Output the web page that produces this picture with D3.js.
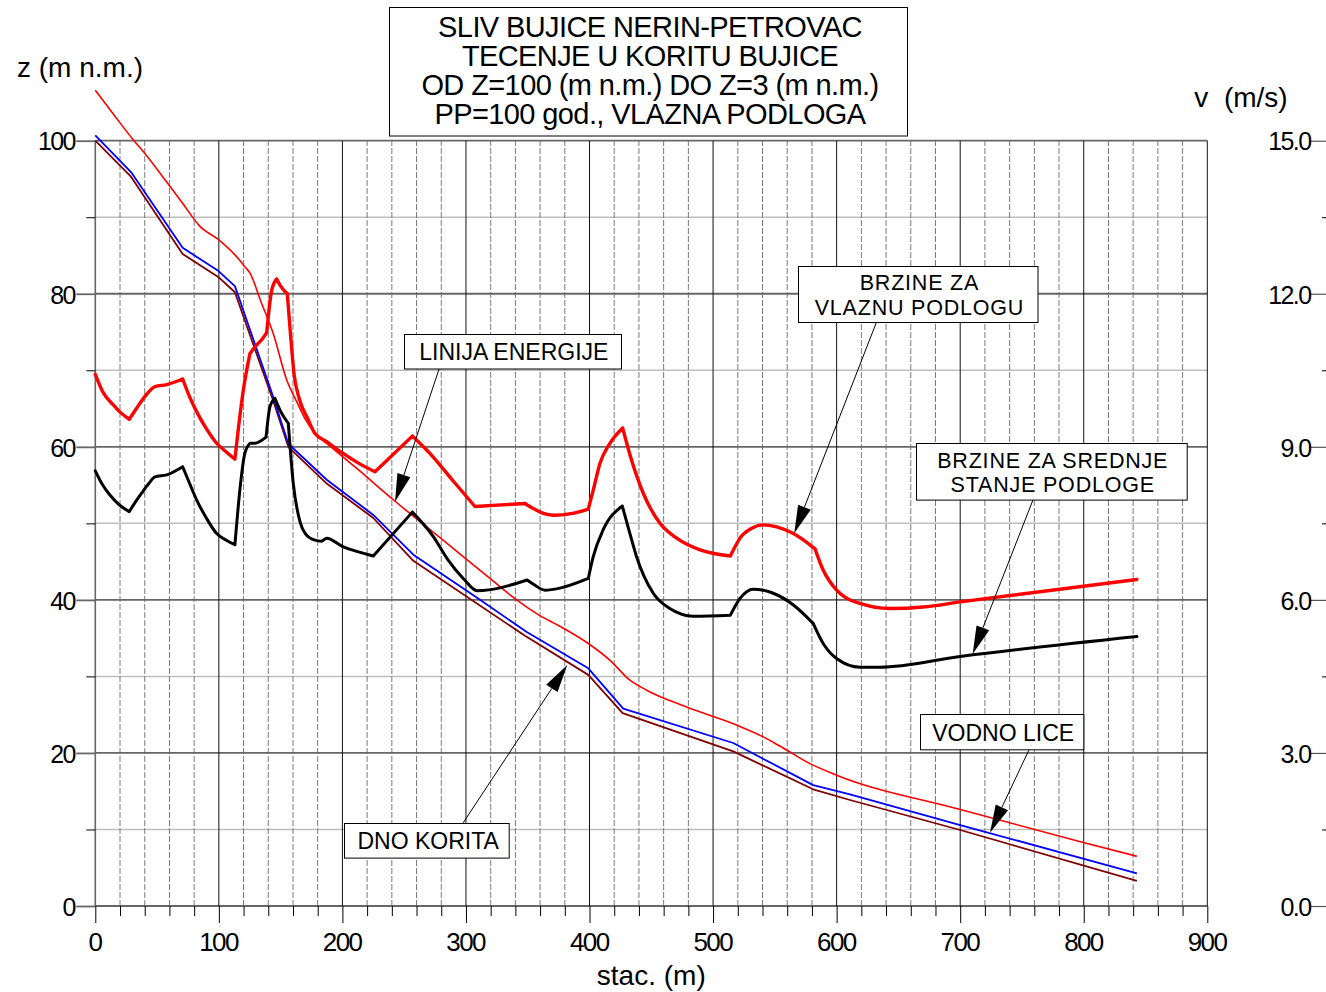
<!DOCTYPE html>
<html><head><meta charset="utf-8">
<script src="https://cdn.jsdelivr.net/npm/d3@7"></script>
<style>
body{margin:0;background:#fff}
svg{display:block}
text{font-family:"Liberation Sans",Arial,Helvetica,sans-serif;fill:#000}
</style>
</head><body>
<svg id="c" width="1326" height="992"></svg>
<script>
// ---------- DATA ----------
const titleLines = ["SLIV BUJICE NERIN-PETROVAC","TECENJE U KORITU BUJICE","OD Z=100 (m n.m.) DO Z=3 (m n.m.)","PP=100 god., VLAZNA PODLOGA"];
const xTicks = [0,100,200,300,400,500,600,700,800,900];
const zTicks = [0,20,40,60,80,100];
const vTicks = [0,3,6,9,12,15];

// DNO KORITA (bed)
const bedStation = [0,28.9,70.7,99.5,113,128,143,156.2,187.3,225,257.4,347.8,399,426.8,516.3,581,610.8,700,843];
const bedZ       = [100,95.3,85.2,82.2,80.2,73.3,66.5,60.0,55.2,50.7,45.1,35.3,30.2,25.2,20.2,15.25,13.85,9.93,3.27];

// VODNO LICE (water surface)
const waterStation = [0,28.9,70.7,99.5,113,128,143,156.2,187.3,225,257.4,308.7,349.2,399,427.3,516.3,581,610.8,700,843];
const waterZ       = [100.7,95.9,86.0,83.0,81.0,74.0,67.0,60.4,55.7,51.1,45.9,40.3,35.8,31.06,25.8,21.3,15.8,14.6,10.58,4.27];

// LINIJA ENERGIJE (energy line)
const energyStation = [0,15,30.8,38.8,57.8,69.9,84.7,99.5,115.7,121.2,125.2,134,144,155,163,170,177.8,190,210,241.4,280,319.4,341,357.2,378.8,399,416.6,432.7,446.2,478.6,519,540.6,554,578.4,600,700,799.6,843];
const energyZ       = [106.6,103.4,100.1,98.6,94.6,92.0,88.8,87.1,84.6,83.5,82.7,79.0,74.8,68.7,65.9,63.6,61.8,60.1,57.4,53.05,48.0,42.8,40.0,38.2,36.3,34.3,32.1,29.5,28.2,26.0,23.65,22.1,20.9,18.6,17.1,12.6,8.3,6.5];

// BRZINE ZA VLAZNU PODLOGU (velocity, wet soil) m/s
const wetStation = [0,6,14.6,20,27.5,33,38,43,48.3,57.8,70.7,76,82,90,98.2,106,113,116,119.8,125.2,130,134.7,138.7,142.8,146.8,150,155.4,158,161,165,172,177.8,187.3,200,213,226.4,256.6,273.5,290,307.3,347.8,354.5,362,370.6,385,399,403,408.5,416,426.8,434,443.5,457,470.5,489.5,514,518,521.8,531,540.6,551.5,565,582.5,589,600,619,643.2,670,700,843];
const wetV       = [10.42,10.08,9.82,9.68,9.54,9.74,9.92,10.07,10.18,10.22,10.33,10.0,9.69,9.35,9.07,8.9,8.76,9.4,10.11,10.83,10.98,11.1,11.24,12.07,12.29,12.15,12.0,11.2,10.4,9.95,9.55,9.26,9.10,8.88,8.68,8.51,9.21,8.80,8.32,7.83,7.89,7.79,7.70,7.66,7.69,7.78,8.15,8.68,9.05,9.37,8.74,8.09,7.5,7.21,6.98,6.86,7.05,7.21,7.40,7.47,7.43,7.30,7.0,6.59,6.19,5.93,5.83,5.86,5.96,6.40];
const wetKinks   = [27.5,70.7,113,125.2,138.7,146.8,155.4,226.4,256.6,307.3,347.8,399,426.8,514,582.5];

// BRZINE ZA SREDNJE STANJE PODLOGE (velocity, average soil) m/s
const meanStation = [0,6,12,20,27.5,32,37.5,43,48.3,57.8,70.7,76,82,90,98.2,106,113,117,121,125.2,129,138.2,141.4,145.4,149.5,156.2,160.2,165.7,170,177.8,183,187.3,200,213,225,256.6,273.6,285,297.8,309,349.5,355,364,376,399,403,411,426.5,432.7,438,451.6,465,484,514,521.8,532.5,548.7,565,581,589,600,618.9,635,700,843];
const meanV       = [8.53,8.25,8.05,7.85,7.73,7.9,8.09,8.27,8.41,8.45,8.61,8.3,7.96,7.6,7.30,7.17,7.08,8.15,8.87,9.07,9.07,9.19,9.79,9.95,9.72,9.46,8.29,7.53,7.3,7.17,7.15,7.21,7.05,6.94,6.86,7.72,7.24,6.8,6.42,6.18,6.39,6.30,6.19,6.23,6.42,6.85,7.37,7.84,7.30,6.85,6.13,5.83,5.68,5.70,6.03,6.21,6.13,5.90,5.54,5.15,4.85,4.68,4.68,4.89,5.28];
const meanKinks   = [27.5,70.7,113,125.2,138.2,145.4,156.2,225,256.6,349.5,399,426.5,514,581];

// ---------- LAYOUT ----------
const W = 1326, H = 992;
const x  = d3.scaleLinear().domain([0,900]).range([95.3,1207.3]);
const y  = d3.scaleLinear().domain([0,100]).range([906,140.7]);
const yv = d3.scaleLinear().domain([0,15]).range([906,140.7]);

const svg = d3.select("#c");
const g = svg.append("g");

const zMinor = d3.range(10,100,20);
const xMinor = d3.range(20,900,20).filter(d => d % 100 !== 0);
const vMinor = d3.range(1.5,15,3);

// grid: minor horizontal
g.append("g").selectAll("line").data(zMinor).join("line")
  .attr("x1",x(0)).attr("x2",x(900)).attr("y1",d=>y(d)).attr("y2",d=>y(d))
  .attr("stroke","#bfbfbf").attr("stroke-width",1.5);
// grid: minor vertical (dashed)
g.append("g").selectAll("line").data(xMinor).join("line")
  .attr("x1",d=>x(d)).attr("x2",d=>x(d)).attr("y1",y(0)).attr("y2",y(100))
  .attr("stroke","#7a7a7a").attr("stroke-width",1).attr("stroke-dasharray","6 2");
// grid: major horizontal
g.append("g").selectAll("line").data(zTicks).join("line")
  .attr("x1",x(0)).attr("x2",x(900)).attr("y1",d=>y(d)).attr("y2",d=>y(d))
  .attr("stroke","#666").attr("stroke-width",1.8);
// grid: major vertical
g.append("g").selectAll("line").data(xTicks).join("line")
  .attr("x1",d=>x(d)).attr("x2",d=>x(d)).attr("y1",y(0)).attr("y2",y(100))
  .attr("stroke",d=>d===0?"#666":"#111").attr("stroke-width",d=>d===0?1.6:1);

function styleAxis(sel, fs, color, sw){
  sel.select(".domain").remove();
  sel.attr("font-family",null).attr("font-size",null);
  sel.selectAll(".tick line").attr("stroke",color).attr("stroke-width",sw);
  sel.selectAll(".tick text").attr("font-size",fs).attr("fill","#000")
     .attr("letter-spacing","-1.6px")
     .style("font-family",'"Liberation Sans",Arial,sans-serif');
}

// left axis
g.append("g").attr("transform",`translate(${x(0)},0)`)
  .call(d3.axisLeft(y).tickValues(zTicks).tickSize(19).tickPadding(1.5).tickFormat(d3.format("d")))
  .call(s=>{styleAxis(s,25,"#666",1.8); s.selectAll(".tick text").attr("dy","0.37em");});
g.append("g").attr("transform",`translate(${x(0)},0)`)
  .call(d3.axisLeft(y).tickValues(zMinor).tickSize(9).tickFormat(""))
  .call(s=>styleAxis(s,25,"#000",1));

// bottom axis
g.append("g").attr("transform",`translate(0,${y(0)})`)
  .call(d3.axisBottom(x).tickValues(xTicks).tickSize(17).tickPadding(10).tickFormat(d3.format("d")))
  .call(s=>{styleAxis(s,26,"#000",1); s.selectAll(".tick text").attr("dx","-0.8px");});
g.append("g").attr("transform",`translate(0,${y(0)})`)
  .call(d3.axisBottom(x).tickValues(xMinor).tickSize(10).tickFormat(""))
  .call(s=>styleAxis(s,26,"#000",1));

// right axis (velocity)
g.append("g").attr("transform",`translate(${W},0)`)
  .call(d3.axisLeft(yv).tickValues(vTicks).tickSize(15).tickPadding(0.5).tickFormat(d3.format(".1f")))
  .call(s=>{styleAxis(s,25,"#555",1.2); s.selectAll(".tick text").attr("dy","0.37em");});
g.append("g").attr("transform",`translate(${W},0)`)
  .call(d3.axisLeft(yv).tickValues(vMinor).tickSize(4).tickFormat(""))
  .call(s=>styleAxis(s,25,"#000",1));

// axis titles
g.append("text").attr("x",17).attr("y",76.5).attr("font-size",28).text("z (m n.m.)");
g.append("text").attr("x",1241).attr("y",106.5).attr("font-size",28).attr("text-anchor","middle")
  .style("white-space","pre").text("v  (m/s)");
g.append("text").attr("x",x(450)).attr("y",985).attr("font-size",28).attr("text-anchor","middle").text("stac. (m)");

// ---------- SERIES ----------
function zip(a,b){ return a.map((d,i)=>[d,b[i]]); }
// smooth between break stations, sharp corners at the break stations
function segmentedPath(st, vals, kinks, ys){
  const pts = zip(st, vals);
  const line = d3.line().x(d=>x(d[0])).y(d=>ys(d[1])).curve(d3.curveMonotoneX);
  const segs = []; let cur = [];
  pts.forEach(p=>{
    cur.push(p);
    if (kinks.includes(p[0])) { segs.push(cur); cur = [p]; }
  });
  if (cur.length > 1) segs.push(cur);
  return segs.map(s=>line(s)).join("");
}
const lineZ = d3.line().x(d=>x(d[0])).y(d=>y(d[1]));
const lineZs = d3.line().x(d=>x(d[0])).y(d=>y(d[1])).curve(d3.curveMonotoneX);

g.append("path").attr("d",lineZ(zip(bedStation,bedZ))).attr("fill","none")
  .attr("stroke","#800000").attr("stroke-width",1.8).attr("stroke-linejoin","round");
g.append("path").attr("d",lineZ(zip(waterStation,waterZ))).attr("fill","none")
  .attr("stroke","#0000ff").attr("stroke-width",1.8).attr("stroke-linejoin","round");
g.append("path").attr("d",lineZs(zip(energyStation,energyZ))).attr("fill","none")
  .attr("stroke","#ff0000").attr("stroke-width",1.6).attr("stroke-linejoin","round");
g.append("path").attr("d",segmentedPath(wetStation,wetV,wetKinks,yv)).attr("fill","none")
  .attr("stroke","#ff0000").attr("stroke-width",3.4).attr("stroke-linejoin","round").attr("stroke-linecap","round");
g.append("path").attr("d",segmentedPath(meanStation,meanV,meanKinks,yv)).attr("fill","none")
  .attr("stroke","#000").attr("stroke-width",3).attr("stroke-linejoin","round").attr("stroke-linecap","round");

// ---------- TITLE ----------
g.append("rect").attr("x",389.5).attr("y",7.5).attr("width",518).attr("height",128.5)
  .attr("fill","#fff").attr("stroke","#000").attr("stroke-width",1);
const tt = g.append("text").attr("text-anchor","middle").attr("font-size",29).attr("letter-spacing","-0.6px");
titleLines.forEach((d,i)=>{
  tt.append("tspan").attr("x",650).attr("y",36.5+i*29.3).text(d);
});

// ---------- ANNOTATIONS ----------
const annotations = [
  {lines:["LINIJA ENERGIJE"], cs:337.5, cz:72.5, w:217, h:34.5, from:[278.4,70.25], tip:[242.6,52.83,"z"]},
  {lines:["BRZINE ZA","VLAZNU PODLOGU"], cs:665.8, cz:80.0, w:239.5, h:56, from:[632.4,76.35], tip:[565.7,7.305,"v"]},
  {lines:["BRZINE ZA SREDNJE","STANJE PODLOGE"], cs:773.7, cz:56.84, w:270.7, h:56.6, from:[759.1,53.14], tip:[710.1,4.94,"v"]},
  {lines:["VODNO LICE"], cs:733.6, cz:22.78, w:163.3, h:35.3, from:[755.9,20.48], tip:[724.1,9.58,"z"]},
  {lines:["DNO KORITA"], cs:268.2, cz:8.62, w:164.7, h:34.6, from:[297.8,10.88], tip:[382,31.49,"z"]}
];
annotations.forEach(a=>{
  const x0 = x(a.from[0]), y0 = y(a.from[1]);
  const x1 = x(a.tip[0]), y1 = a.tip[2]==="v" ? yv(a.tip[1]) : y(a.tip[1]);
  const dx = x1-x0, dy = y1-y0, L = Math.hypot(dx,dy), ux = dx/L, uy = dy/L;
  const al = 28, aw = 6.8;
  const bx = x1-ux*al, by = y1-uy*al;
  g.append("line").attr("x1",x0).attr("y1",y0).attr("x2",bx).attr("y2",by)
    .attr("stroke","#000").attr("stroke-width",1);
  g.append("path").attr("d",`M${x1},${y1}L${bx-uy*aw},${by+ux*aw}L${bx+uy*aw},${by-ux*aw}Z`)
    .attr("fill","#000");
  const cx = x(a.cs), cy = y(a.cz);
  g.append("rect").attr("x",Math.round(cx-a.w/2)+0.5).attr("y",Math.round(cy-a.h/2)+0.5)
    .attr("width",a.w).attr("height",a.h).attr("fill","#fff").attr("stroke","#000").attr("stroke-width",1);
  const n = a.lines.length;
  const fs = n > 1 ? 21.5 : 23, lh = 24.2, ls = n > 1 ? "0.8px" : "0px";
  const t = g.append("text").attr("text-anchor","middle").attr("font-size",fs).attr("letter-spacing",ls);
  a.lines.forEach((s,i)=>{
    t.append("tspan").attr("x",cx+1.5).attr("y",cy+0.36*fs+(i-(n-1)/2)*lh+1).text(s);
  });
});
</script>
</body></html>
